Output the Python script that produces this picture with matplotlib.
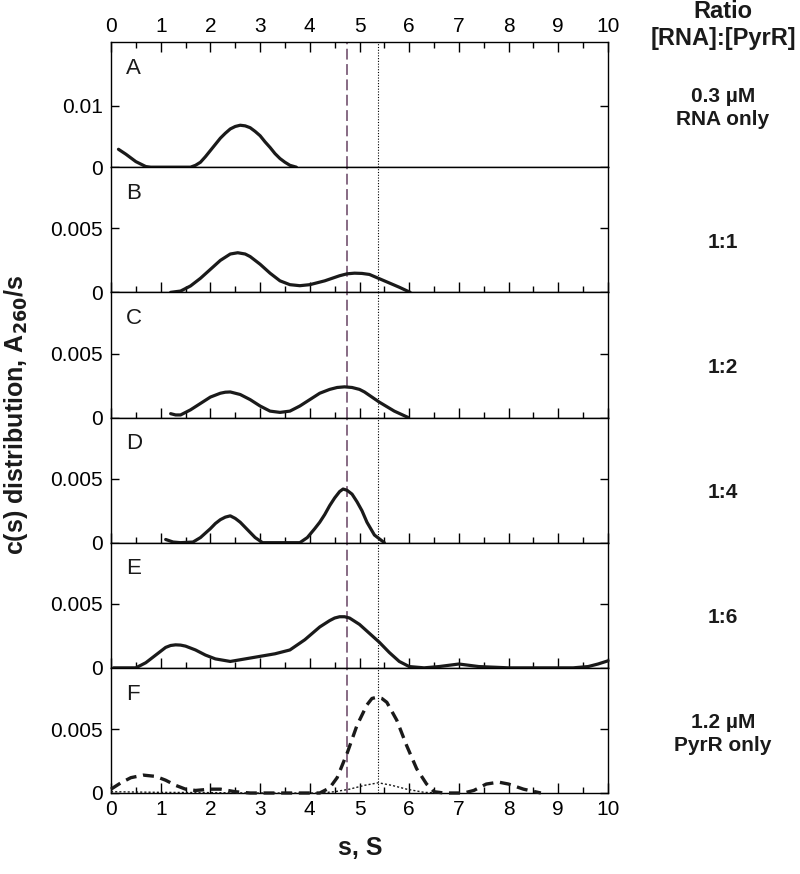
import matplotlib
matplotlib.use('Agg')
from matplotlib import pyplot as plt
from matplotlib.ticker import MultipleLocator, FixedLocator

plt.rcParams['font.family'] = ['Liberation Sans', 'DejaVu Sans']

# c(s) curves, one pair of lists per panel
a_s = [0.15, 0.3, 0.5, 0.7, 0.8, 1.6, 1.7, 1.8, 1.9, 2.0, 2.1, 2.2, 2.3, 2.4, 2.5, 2.6, 2.7,
       2.8, 2.9, 3.0, 3.1, 3.2, 3.3, 3.4, 3.5, 3.6, 3.73]
a_c = [0.0029, 0.0021, 0.0009, 0.0001, 0, 0, 0.0003, 0.0008, 0.0017, 0.0027, 0.0037, 0.0047,
       0.0055, 0.0062, 0.0066, 0.0068, 0.0067, 0.0064, 0.0058, 0.0051, 0.0041, 0.0032, 0.0022,
       0.0014, 0.0008, 0.0003, 0]

b_s = [1.2, 1.4, 1.6, 1.8, 2.0, 2.2, 2.4, 2.55, 2.7, 2.8, 3.0, 3.2, 3.4, 3.6, 3.8, 4.0, 4.3,
       4.6, 4.75, 4.9, 5.05, 5.2, 5.5, 5.8, 6.02]
b_c = [0, 0.0001, 0.0005, 0.0011, 0.0018, 0.0025, 0.003, 0.0031, 0.003, 0.0028, 0.0022, 0.0015,
       0.0009, 0.0006, 0.00052, 0.0006, 0.0009, 0.0013, 0.00145, 0.0015, 0.00148, 0.0014,
       0.0009, 0.0004, 0]

c_s = [1.2, 1.3, 1.4, 1.6, 1.8, 2.0, 2.2, 2.3, 2.4, 2.5, 2.6, 2.8, 3.0, 3.2, 3.4, 3.6, 3.8,
       4.0, 4.2, 4.4, 4.55, 4.7, 4.85, 5.0, 5.1, 5.4, 5.7, 5.98]
c_c = [0.0003, 0.0002, 0.0002, 0.0006, 0.0011, 0.0016, 0.0019, 0.00198, 0.002, 0.0019, 0.0018,
       0.0014, 0.0009, 0.0005, 0.0004, 0.0005, 0.0009, 0.0014, 0.0019, 0.0022, 0.00235, 0.0024,
       0.00235, 0.0022, 0.002, 0.0012, 0.0005, 0]

d_s = [1.1, 1.25, 1.4, 1.65, 1.8, 2.0, 2.1, 2.2, 2.3, 2.4, 2.5, 2.6, 2.7, 2.9, 3.05, 3.8, 3.95,
       4.1, 4.2, 4.3, 4.4, 4.5, 4.6, 4.67, 4.75, 4.85, 4.95, 5.05, 5.15, 5.3, 5.5]
d_c = [0.00025, 0.00005, 0, 0.00005, 0.0004, 0.0011, 0.0015, 0.0018, 0.002, 0.0021, 0.0019,
       0.0016, 0.0012, 0.0004, 0, 0, 0.0004, 0.0011, 0.0016, 0.0022, 0.0029, 0.0035, 0.0040,
       0.0042, 0.0041, 0.0038, 0.0032, 0.0025, 0.0016, 0.0006, 0]

e_s = [0.05, 0.5, 0.7, 0.9, 1.1, 1.2, 1.3, 1.4, 1.5, 1.7, 1.9, 2.1, 2.4, 2.7, 3.0, 3.3, 3.6,
       3.9, 4.2, 4.4, 4.5, 4.6, 4.7, 4.8, 5.0, 5.2, 5.4, 5.6, 5.8, 6.0, 6.3, 6.6, 7.0, 7.4, 8.0,
       9.3, 9.6, 9.8, 10.0]
e_c = [0, 0, 0.0004, 0.001, 0.0016, 0.00175, 0.0018, 0.00178, 0.0017, 0.0014, 0.001, 0.0007,
       0.0005, 0.0007, 0.0009, 0.0011, 0.0014, 0.0022, 0.0032, 0.0037, 0.0039, 0.004, 0.004,
       0.0039, 0.0034, 0.0027, 0.002, 0.0012, 0.0005, 0.0001, 0, 0.0001, 0.0003, 0.0001, 0, 0,
       0.0001, 0.0003, 0.00055]

f_s = [0.0, 0.2, 0.4, 0.65, 0.9, 1.1, 1.3, 1.5, 1.7, 2.0, 2.2, 2.5, 2.8, 4.2, 4.4, 4.55, 4.75,
       4.95, 5.15, 5.25, 5.35, 5.45, 5.55, 5.75, 5.95, 6.15, 6.35, 6.5, 6.7, 7.1, 7.3, 7.55,
       7.8, 8.0, 8.3, 8.65]
f_c = [0.0003, 0.0008, 0.0012, 0.0014, 0.0013, 0.001, 0.0006, 0.0003, 0.0002, 0.0003, 0.0003,
       0.0001, 0, 0, 0.0004, 0.0012, 0.0031, 0.0053, 0.0069, 0.0074, 0.0075, 0.0074, 0.0071,
       0.0057, 0.0037, 0.0019, 0.0007, 0.0001, 0, 0, 0.0002, 0.0007, 0.00085, 0.0007, 0.0003,
       0]

# thin dotted trace in panel F
f2_s = [0.0, 1.0, 2.0, 3.0, 4.2, 4.5, 4.8, 5.1, 5.38, 5.65, 5.95, 6.3, 6.6]
f2_c = [0.0001, 0.00005, 0.00003, 0, 0, 0.0001, 0.0003, 0.0006, 0.0008, 0.0006, 0.0003,
        0.00005, 0]

panel_letters = ['A', 'B', 'C', 'D', 'E', 'F']
ratio_labels = ['0.3 µM\nRNA only', '1:1', '1:2', '1:4', '1:6', '1.2 µM\nPyrR only']
y_tops = [0.0203, 0.0098, 0.0098, 0.0098, 0.0098, 0.0098]
y_ticks = [[0, 0.01], [0, 0.005], [0, 0.005], [0, 0.005], [0, 0.005], [0, 0.005]]
y_ticklabels = [['0', '0.01'], ['0', '0.005'], ['0', '0.005'], ['0', '0.005'], ['0', '0.005'],
                ['0', '0.005']]
s_purple = 4.74
s_dotted = 5.38

curves = [(a_s, a_c), (b_s, b_c), (c_s, c_c), (d_s, d_c), (e_s, e_c)]

fig = plt.figure(figsize=(8, 8.74), dpi=100)
left, right = 111 / 800, 608 / 800
top_px, bot_px = 42, 793
h = (bot_px - top_px) / 6 / 874
lab_x = 723 / 800

axes = []
for i in range(6):
    y0 = 1 - (top_px / 874) - (i + 1) * h
    ax = fig.add_axes([left, y0, right - left, h])
    axes.append(ax)

for i, ax in enumerate(axes):
    ax.set_xlim(0, 10)
    ax.set_ylim(0, y_tops[i])
    for sp in ax.spines.values():
        sp.set_linewidth(1.0)
    ax.axvline(s_purple, color='#7e5f7b', lw=1.3, dashes=(6, 2.5), zorder=1)
    ax.axvline(s_dotted, color='black', lw=0.8, ls=(0, (1, 1.5)), zorder=1)

    if i < 5:
        xs, cs = curves[i]
        ax.plot(xs, cs, color='#1a1a1a', lw=2.3, clip_on=False, zorder=3,
                solid_joinstyle='round', solid_capstyle='round')
    else:
        ax.plot(f_s, f_c, color='#1a1a1a', lw=2.4, dashes=(3.3, 2.0), clip_on=False, zorder=3)
        ax.plot(f2_s, f2_c, color='#1a1a1a', lw=1.0, ls=(0, (1.5, 1.5)), clip_on=False, zorder=3)

    ax.yaxis.set_major_locator(FixedLocator(y_ticks[i]))
    ax.set_yticklabels(y_ticklabels[i])
    ax.xaxis.set_major_locator(MultipleLocator(1))
    ax.xaxis.set_minor_locator(MultipleLocator(0.5))
    ax.tick_params(axis='y', which='both', direction='in', left=True, right=True,
                   length=6, width=1.0, labelsize=15, pad=6)
    if i == 0:
        ax.tick_params(axis='x', which='both', direction='in', top=True, bottom=False,
                       labeltop=True, labelbottom=False, labelsize=15, width=1.0, pad=4)
    else:
        ax.tick_params(axis='x', which='both', direction='in', top=False, bottom=True,
                       labelbottom=(i == 5), labelsize=15, width=1.0, pad=5)
    ax.tick_params(axis='x', which='major', length=7)
    ax.tick_params(axis='x', which='minor', length=4)

    ax.text(0.03, 0.79, panel_letters[i], transform=ax.transAxes, fontsize=16,
            ha='left', va='center', color='#1a1a1a')
    yc = 0.47 if '\n' in ratio_labels[i] else 0.40
    fig.text(lab_x, 1 - (top_px + (i + 1 - yc) * (bot_px - top_px) / 6) / 874,
             ratio_labels[i], ha='center', va='center', fontsize=15, fontweight='bold',
             color='#1a1a1a', linespacing=1.25)

fig.text(lab_x, 1 - 25 / 874, 'Ratio\n[RNA]:[PyrR]', ha='center', va='center',
         fontsize=17, fontweight='bold', color='#1a1a1a', linespacing=1.2)
fig.text(16 / 800, 1 - 415 / 874, r'c(s) distribution, A$_{\mathbf{260}}$/s', rotation=90,
         ha='center', va='center', fontsize=18, fontweight='bold', color='#1a1a1a')
fig.text(360 / 800, 1 - 848 / 874, 's, S', ha='center', va='center', fontsize=18,
         fontweight='bold', color='#1a1a1a')

plt.savefig('out.png', dpi=100)
plt.close()
